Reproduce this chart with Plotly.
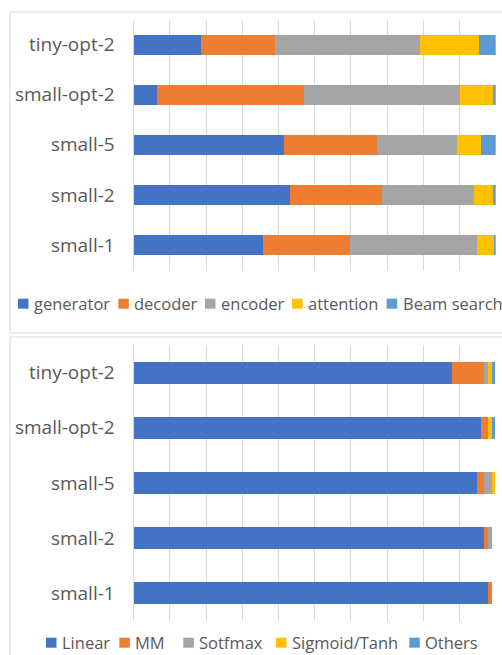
import plotly.graph_objects as go

# Colour constants (Office palette)
BLUE = "#4472C4"
ORANGE = "#ED7D31"
GRAY = "#A5A5A5"
YELLOW = "#FFC000"
LIGHT_BLUE = "#5B9BD5"
GRID = "#D9D9D9"
TEXT = "#595959"
FONT = "Open Sans"

W, H = 502, 655

# Data
categories = ["tiny-opt-2", "small-opt-2", "small-5", "small-2", "small-1"]

module_names = ["generator", "decoder", "encoder", "attention", "Beam search"]
generator = [18.6, 6.4, 41.6, 43.3, 35.8]
decoder = [20.5, 40.7, 25.7, 25.4, 24.0]
encoder = [40.1, 43.1, 22.1, 25.3, 35.0]
attention = [16.1, 9.1, 6.5, 5.2, 4.7]
beam_search = [4.7, 0.7, 4.1, 0.8, 0.5]

op_names = ["Linear", "MM", "Sotfmax", "Sigmoid/Tanh", "Others"]
linear = [87.9, 95.9, 94.9, 96.9, 97.9]
mm = [8.9, 2.0, 2.0, 1.0, 1.1]
softmax = [1.1, 0.0, 2.1, 1.1, 0.0]
sigmoid_tanh = [1.1, 1.1, 0.9, 0.0, 0.0]
others = [0.9, 0.9, 0.0, 0.0, 0.0]

colors = [BLUE, ORANGE, GRAY, YELLOW, LIGHT_BLUE]


def px_x(x):
    return x / W


def px_y(y):
    return 1 - y / H


fig = go.Figure()

for name, vals, col in zip(module_names, [generator, decoder, encoder, attention, beam_search], colors):
    fig.add_trace(go.Bar(
        y=categories, x=vals, name=name, orientation="h",
        marker=dict(color=col, line=dict(width=0)),
        xaxis="x", yaxis="y", showlegend=False
    ))

for name, vals, col in zip(op_names, [linear, mm, softmax, sigmoid_tanh, others], colors):
    fig.add_trace(go.Bar(
        y=categories, x=vals, name=name, orientation="h",
        marker=dict(color=col, line=dict(width=0)),
        xaxis="x2", yaxis="y2", showlegend=False
    ))

shapes = []
annotations = []

# chart frames
shapes.append(dict(type="rect", xref="paper", yref="paper",
                   x0=px_x(10), x1=px_x(520), y0=px_y(333), y1=px_y(12),
                   line=dict(color=GRID, width=1), layer="below"))
shapes.append(dict(type="rect", xref="paper", yref="paper",
                   x0=px_x(10), x1=px_x(520), y0=px_y(670), y1=px_y(337),
                   line=dict(color=GRID, width=1), layer="below"))


def add_legend(names, square_x, y_center):
    for name, col, x in zip(names, colors, square_x):
        shapes.append(dict(type="rect", xref="paper", yref="paper",
                           x0=px_x(x), x1=px_x(x + 10.5),
                           y0=px_y(y_center + 5), y1=px_y(y_center - 5),
                           fillcolor=col, line=dict(width=0)))
        annotations.append(dict(xref="paper", yref="paper",
                                x=px_x(x + 14), y=px_y(y_center),
                                text=name, showarrow=False,
                                xanchor="left", yanchor="middle",
                                font=dict(family=FONT, size=16.5, color=TEXT)))


add_legend(module_names, [18, 118.3, 205, 292, 386.7], 303.7)
add_legend(op_names, [46, 119.3, 183.3, 276, 409.3], 642.7)

x_common = dict(range=[0, 100], dtick=10, showgrid=True, gridcolor=GRID, gridwidth=1,
                zeroline=True, zerolinecolor=GRID, zerolinewidth=1,
                showticklabels=False, showline=False, fixedrange=True)
y_common = dict(autorange="reversed", showgrid=False, showline=False,
                ticks="", ticklabelstandoff=18,
                tickfont=dict(family=FONT, size=19, color=TEXT))

fig.update_layout(
    width=W, height=H,
    margin=dict(l=0, r=0, t=0, b=0),
    plot_bgcolor="white", paper_bgcolor="white",
    barmode="stack", bargap=0.6,
    showlegend=False,
    xaxis=dict(domain=[px_x(133.7), px_x(495.7)], anchor="y", **x_common),
    yaxis=dict(domain=[px_y(270), px_y(19.5)], anchor="x", **y_common),
    xaxis2=dict(domain=[px_x(133.7), px_x(495.7)], anchor="y2", **x_common),
    yaxis2=dict(domain=[px_y(621), px_y(345)], anchor="x2", **y_common),
    shapes=shapes,
    annotations=annotations,
)

# drop the default page margin so the 502x655 figure fills the window
fig.write_html(
    "out.html",
    config={"displayModeBar": False},
    post_script="document.body.style.margin='0';document.body.style.overflow='hidden';",
)
